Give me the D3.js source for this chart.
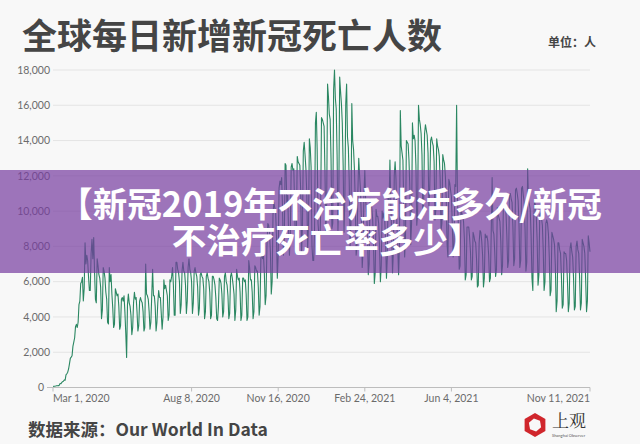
<!DOCTYPE html>
<html><head><meta charset="utf-8">
<script src="https://cdn.jsdelivr.net/npm/d3@7"></script>
<style>body{margin:0;background:#f8f8f8;overflow:hidden}</style>
</head><body>
<svg id="c" width="640" height="444"></svg>
<script>
// ---- data (daily new deaths, world) ----
const startDate = "2020-03-01";
const deaths2020 = [
60,70,75,85,100,100,105,
105,220,210,275,330,350,430,
410,720,780,870,1050,1340,1650,
1720,1800,2330,2570,2820,3450,3580,
3400,3700,4700,4900,5900,6000,6250,
4900,5600,8200,7000,7500,7200,6300,
5500,5500,7600,8400,7300,8500,6500,
5000,4800,7300,6900,6400,6200,5700,
3900,4400,6800,6600,6200,5400,5000,
3700,3600,6800,6000,6400,5300,4500,
3400,3600,5600,5400,5200,5300,4600,
3300,3500,5000,5100,4900,5200,4300,
3100,1700,4700,5300,4800,4600,4100,
3000,3400,4800,5400,5000,5100,4300,
3200,3500,4900,5100,4900,4800,4300,
3200,3400,7000,5300,5200,5000,4300,
3300,3700,5200,6700,5200,5200,4600,
3200,3700,4800,5500,5100,5100,4200,
3300,4000,6100,5600,5800,5500,5200,
3800,4100,6100,6000,6300,6800,5800,
4100,4100,7100,7100,6700,6500,6000,
4200,4700,6600,7100,6600,6500,5800,
4200,4900,6800,7300,6700,6500,6000,
4200,4800,6600,6800,6500,6300,5700,
4100,4500,6400,6500,6300,6200,5600,
3900,4300,6300,6500,6200,6000,5400,
3900,4100,6300,6300,6100,5800,5100,
3900,3800,4600,6200,6100,5900,5300,
4000,4300,6300,6500,6000,5800,5200,
3900,4200,6300,6500,6200,5800,5300,
3800,4400,6700,6300,6100,6200,5400,
3800,4100,6200,6200,6000,6100,5300,
3800,4000,7200,6800,6100,6100,5400,
3900,4300,6900,6800,6600,6600,5700,
4100,4600,7300,7600,7300,7500,6500,
4700,5200,8000,9300,9200,8800,7700,
5300,6000,9800,10500,10200,10000,8600,
6200,7500,11300,11700,11500,11900,10200,
7500,8200,12700,12600,10300,10900,8800,
7500,8700,12500,12700,12300,12400,10300,
7600,8900,13100,12800,12700,12600,11100,
7600,9200,13400,13900,13200,12400,11000,
7800,9200,14100,13600,12500,8000,7200,
7200,9000,15000,15600,13500
];
const deaths2021 = [
9300,8600,
7600,10000,15300,15200,15000,14800,12200,
8800,10500,17200,16500,15500,15200,13000,
9000,9300,16900,18000,16400,15800,13200,
8900,10900,17600,16800,16100,15000,12600,
8800,10800,16100,17200,14200,13600,11700,
7900,9300,16100,14000,13500,12400,10400,
7500,8000,11100,13000,12000,11200,9600,
6800,7800,11000,12300,10600,10000,8800,
6400,7000,10700,10300,10200,9600,8200,
5900,6500,10100,9700,9700,9300,8000,
6000,6900,10000,9600,9900,9500,8300,
6200,7400,11200,10400,12900,10500,8700,
6500,7700,12000,12800,11800,9300,8000,
6400,8000,15700,13700,13300,12900,10200,
7400,8500,14000,13900,13800,12900,11300,
8100,9300,15000,14100,14300,14000,12600,
9200,9900,16000,15200,14900,14400,13200,
9700,10600,14400,14900,14600,14300,13300,
10300,11300,14000,14200,13900,13700,12800,
9500,10100,14100,13700,13500,13100,11800,
8900,9300,13200,12900,12700,12000,10700,
8100,7400,11800,11600,11200,10800,9300,
7400,8200,11500,11400,16000,10600,9200,
6700,6900,10100,9900,9700,9400,8400,
6100,6400,9100,9100,9100,8500,7700,
6100,6300,8800,8600,8300,8200,7300,
5700,5800,8200,8900,8800,8300,7500,
5700,6200,8700,8500,8600,8300,7500,
6000,6200,8900,11900,8900,8700,7700,
6300,6700,10200,9800,9600,9400,8300,
6400,6900,10400,10300,10200,9900,8600,
6800,7200,10900,11000,10700,10500,9100,
6900,7300,11200,11300,11000,10600,9300,
6800,7200,11300,11400,10900,10500,9000,
6600,7100,12400,10600,10400,10100,8600,
6200,5500,9500,10600,10300,9700,8300,
5800,6400,9800,9900,9600,9200,7800,
5500,6000,9300,9500,9300,8700,7400,
5200,5500,8800,8600,8400,8100,6900,
4300,4900,8200,8200,7800,7600,6300,
4500,4700,7700,7600,7600,7200,6000,
4300,4800,7900,8200,7700,7400,6200,
4400,4600,8000,8300,7800,7600,6200,
4400,4800,8400,8200,8000,7600,6100,
4300,4900,8600,8200,7700
];
const yTicks = [0,2000,4000,6000,8000,10000,12000,14000,16000,18000];
const xTickDates = ["2020-03-01","2020-08-08","2020-11-16","2021-02-24","2021-06-04","2021-11-11"];
const xTickLabels = ["Mar 1, 2020","Aug 8, 2020","Nov 16, 2020","Feb 24, 2021","Jun 4, 2021","Nov 11, 2021"];
const titleText = "全球每日新增新冠死亡人数";
const unitText = "单位：人";
const sourceText = "数据来源：Our World In Data";
const bannerLines = ["【新冠2019年不治疗能活多久/新冠","不治疗死亡率多少】"];

// ---- drawing ----
const svg = d3.select("#c");
const W = 640, H = 444;
svg.append("rect").attr("width", W).attr("height", H).attr("fill", "#f8f8f8");

const parse = d3.utcParse("%Y-%m-%d");
const t0 = parse(startDate);
const values = deaths2020.concat(deaths2021);
const data = values.map((v, i) => ({date: d3.utcDay.offset(t0, i), v}));

const x = d3.scaleUtc().domain([parse(xTickDates[0]), parse(xTickDates[xTickDates.length-1])]).range([53, 590]);
const y = d3.scaleLinear().domain([0, 18000]).range([387.5, 70]);

const latin = "Lato, 'Noto Sans', sans-serif";
const cjk = "'Noto Sans CJK SC', sans-serif";

// gridlines
svg.append("g").selectAll("line").data(yTicks.filter(d => d > 0)).join("line")
  .attr("x1", 53).attr("x2", 590)
  .attr("y1", d => y(d)).attr("y2", d => y(d))
  .attr("stroke", "#e4e4e4").attr("stroke-width", 1);

// y labels
const fmt = d3.format(",");
svg.append("g").selectAll("text").data(yTicks).join("text")
  .attr("x", d => d === 0 ? 44 : 50).attr("y", d => y(d))
  .attr("dy", "0.35em").attr("text-anchor", "end")
  .attr("font-family", latin).attr("font-size", 10.5).attr("fill", "#6b6b6b")
  .text(d => fmt(d));
svg.append("line").attr("x1", 47).attr("x2", 53).attr("y1", y(0)).attr("y2", y(0))
  .attr("stroke", "#bdbdbd");

// x axis
svg.append("line").attr("x1", 53).attr("x2", 590).attr("y1", y(0)).attr("y2", y(0))
  .attr("stroke", "#bdbdbd").attr("stroke-width", 1);
const xt = xTickDates.map((d, i) => ({date: parse(d), label: xTickLabels[i], i}));
svg.append("g").selectAll("line").data(xt).join("line")
  .attr("x1", d => x(d.date)).attr("x2", d => x(d.date))
  .attr("y1", y(0)).attr("y2", y(0) + 4).attr("stroke", "#bdbdbd");
svg.append("g").selectAll("text").data(xt).join("text")
  .attr("x", d => x(d.date)).attr("y", 398).attr("dy", "0.35em")
  .attr("text-anchor", d => d.i === 0 ? "start" : (d.i === xt.length - 1 ? "end" : "middle"))
  .attr("font-family", latin).attr("font-size", 10.5).attr("fill", "#6b6b6b")
  .text(d => d.label);

// line
const line = d3.line().x(d => x(d.date)).y(d => y(d.v));
svg.append("path").datum(data).attr("d", line)
  .attr("fill", "none").attr("stroke", "#2b8762").attr("stroke-width", 1.1)
  .attr("stroke-linejoin", "round");

// title & unit
svg.append("text").attr("x", 22).attr("y", 37).attr("dy", "0.35em")
  .attr("font-family", cjk).attr("font-weight", 700).attr("font-size", 35)
  .attr("fill", "#454545").text(titleText);
svg.append("text").attr("x", 596).attr("y", 43).attr("dy", "0.35em").attr("text-anchor", "end")
  .attr("font-family", cjk).attr("font-weight", 700).attr("font-size", 12)
  .attr("fill", "#454545").text(unitText);

// source
svg.append("text").attr("x", 28).attr("y", 430).attr("dy", "0.35em")
  .attr("font-family", cjk).attr("font-weight", 700).attr("font-size", 17.5)
  .attr("fill", "#454545").text(sourceText);

// logo
const lg = svg.append("g").attr("transform", "translate(535,425)");
const hex = (r, rot) => d3.range(6).map(k => {
  const a = Math.PI / 3 * k + rot;
  return [r * Math.cos(a), r * Math.sin(a)];
});
lg.append("path").attr("d", "M" + hex(12, Math.PI/6).join("L") + "Z").attr("fill", "#d0262c");
lg.append("path").attr("d", "M" + hex(6.5, 0.35).join("L") + "Z").attr("fill", "#f8f8f8");
svg.append("text").attr("x", 552).attr("y", 421).attr("dy", "0.35em")
  .attr("font-family", "'Noto Serif CJK SC', 'Noto Sans CJK SC', serif").attr("font-size", 17)
  .attr("fill", "#333").text("上观");
svg.append("text").attr("x", 552).attr("y", 436).attr("dy", "0.35em")
  .attr("font-family", latin).attr("font-size", 4).attr("fill", "#555").text("Shanghai Observer");

// banner overlay
svg.append("rect").attr("x", 0).attr("y", 170).attr("width", W).attr("height", 103)
  .attr("fill", "rgb(118,60,160)").attr("fill-opacity", 0.7);
const bt = svg.append("text")
  .attr("font-family", cjk).attr("font-weight", 700).attr("font-size", 34.5)
  .attr("fill", "#ffffff").attr("text-anchor", "middle");
bt.selectAll("tspan").data(bannerLines).join("tspan")
  .attr("x", (d, i) => i === 0 ? 330 : 327)
  .attr("y", (d, i) => 205 + i * 36).attr("dy", "0.35em")
  .text(d => d);
</script>
</body></html>
